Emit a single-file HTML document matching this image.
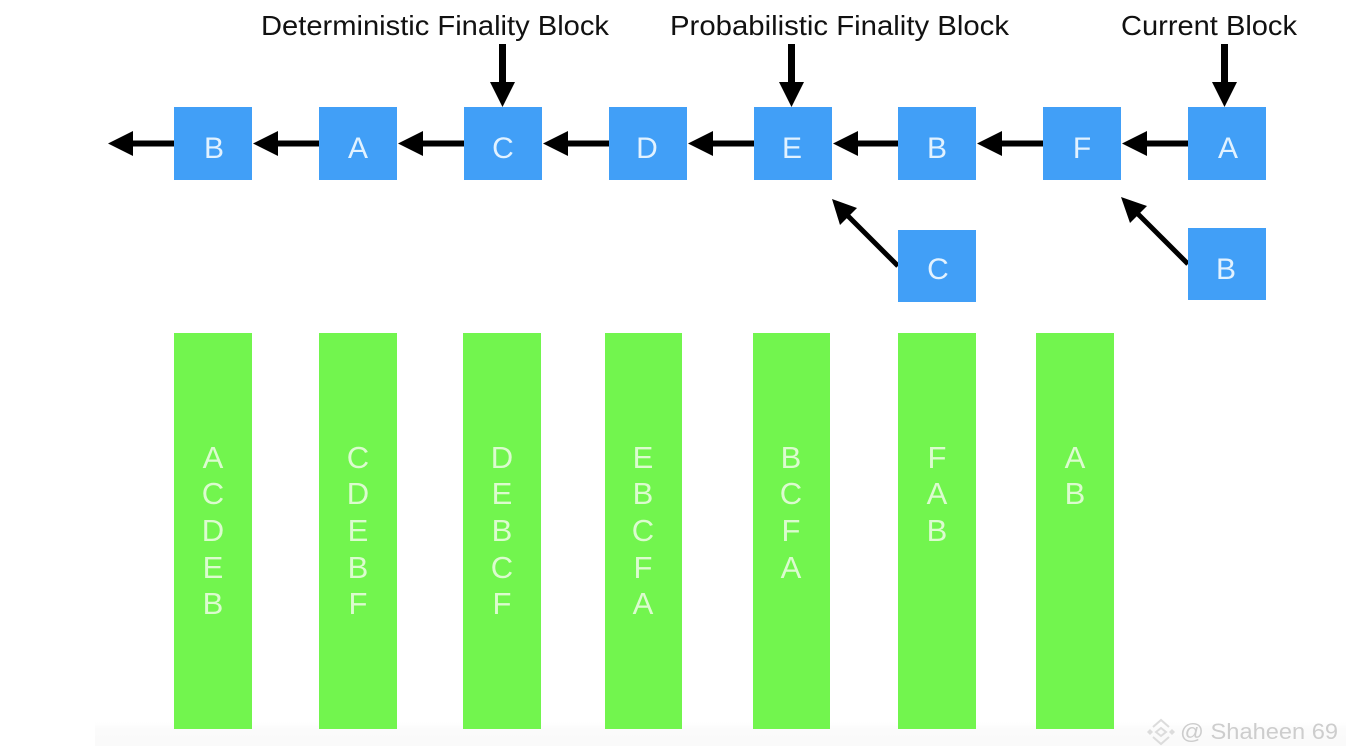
<!DOCTYPE html>
<html><head><meta charset="utf-8"><style>
html,body{margin:0;padding:0;background:#fff;width:1346px;height:756px;overflow:hidden}
svg{display:block}
text{font-family:"Liberation Sans",sans-serif}
.l{font-size:28px;fill:#111}
.b{font-size:30px;fill:#e2f2ff;text-anchor:middle}
.g{font-size:31px;fill:#dcfbcf;text-anchor:middle}
</style></head><body>
<svg width="1346" height="756" viewBox="0 0 1346 756" xmlns="http://www.w3.org/2000/svg">
<defs><linearGradient id="bg" x1="0" y1="0" x2="0" y2="1"><stop offset="0" stop-color="#fff"/><stop offset="0.3" stop-color="#fbfbfb"/><stop offset="1" stop-color="#fafafa"/></linearGradient></defs>
<rect x="95" y="722" width="1251" height="24" fill="url(#bg)"/>
<text class="l" x="261" y="35" textLength="348" lengthAdjust="spacingAndGlyphs">Deterministic Finality Block</text>
<text class="l" x="670" y="35" textLength="339" lengthAdjust="spacingAndGlyphs">Probabilistic Finality Block</text>
<text class="l" x="1121" y="35" textLength="176" lengthAdjust="spacingAndGlyphs">Current Block</text>
<g fill="#000">
<rect x="499" y="44" width="7" height="40"/><path d="M490 82h25l-12.500 25z"/>
<rect x="788" y="44" width="7" height="40"/><path d="M779 82h25l-12.500 25z"/>
<rect x="1221" y="44" width="7" height="40"/><path d="M1212 82h25l-12.500 25z"/>
<rect x="132" y="140.500" width="44" height="6"/><path d="M108 143.500l25-12.500v25z"/>
<rect x="277" y="140.500" width="44" height="6"/><path d="M253 143.500l25-12.500v25z"/>
<rect x="422" y="140.500" width="44" height="6"/><path d="M398 143.500l25-12.500v25z"/>
<rect x="567" y="140.500" width="44" height="6"/><path d="M543 143.500l25-12.500v25z"/>
<rect x="712" y="140.500" width="44" height="6"/><path d="M688 143.500l25-12.500v25z"/>
<rect x="857" y="140.500" width="44" height="6"/><path d="M833 143.500l25-12.500v25z"/>
<rect x="1001" y="140.500" width="44" height="6"/><path d="M977 143.500l25-12.500v25z"/>
<rect x="1146" y="140.500" width="44" height="6"/><path d="M1122 143.500l25-12.500v25z"/>
<path d="M832 199l25 9-17 17z"/>
<path d="M1121 197l26 9-17 17z"/>
</g>
<g stroke="#000" stroke-width="5" fill="none">
<path d="M848 216L898 266"/>
<path d="M1138 214L1188 264"/>
</g>
<g fill="#419ff7">
<rect x="174" y="107" width="78" height="73"/>
<rect x="319" y="107" width="78" height="73"/>
<rect x="464" y="107" width="78" height="73"/>
<rect x="609" y="107" width="78" height="73"/>
<rect x="754" y="107" width="78" height="73"/>
<rect x="898" y="107" width="78" height="73"/>
<rect x="1043" y="107" width="78" height="73"/>
<rect x="1188" y="107" width="78" height="73"/>
<rect x="898" y="230" width="78" height="72"/>
<rect x="1188" y="228" width="78" height="72"/>
</g>
<g>
<text class="b" x="214" y="158">B</text>
<text class="b" x="358" y="158">A</text>
<text class="b" x="503" y="158">C</text>
<text class="b" x="647" y="158">D</text>
<text class="b" x="792" y="158">E</text>
<text class="b" x="937" y="158">B</text>
<text class="b" x="1082" y="158">F</text>
<text class="b" x="1228" y="158">A</text>
<text class="b" x="938" y="279">C</text>
<text class="b" x="1226" y="279">B</text>
</g>
<g fill="#72f54e">
<rect x="174" y="333" width="78" height="396"/>
<rect x="319" y="333" width="78" height="396"/>
<rect x="463" y="333" width="78" height="396"/>
<rect x="605" y="333" width="77" height="396"/>
<rect x="753" y="333" width="77" height="396"/>
<rect x="898" y="333" width="78" height="396"/>
<rect x="1036" y="333" width="78" height="396"/>
</g>
<g>
<text class="g" x="213" y="468">A</text><text class="g" x="213" y="504">C</text><text class="g" x="213" y="541">D</text><text class="g" x="213" y="578">E</text><text class="g" x="213" y="614">B</text>
<text class="g" x="358" y="468">C</text><text class="g" x="358" y="504">D</text><text class="g" x="358" y="541">E</text><text class="g" x="358" y="578">B</text><text class="g" x="358" y="614">F</text>
<text class="g" x="502" y="468">D</text><text class="g" x="502" y="504">E</text><text class="g" x="502" y="541">B</text><text class="g" x="502" y="578">C</text><text class="g" x="502" y="614">F</text>
<text class="g" x="643" y="468">E</text><text class="g" x="643" y="504">B</text><text class="g" x="643" y="541">C</text><text class="g" x="643" y="578">F</text><text class="g" x="643" y="614">A</text>
<text class="g" x="791" y="468">B</text><text class="g" x="791" y="504">C</text><text class="g" x="791" y="541">F</text><text class="g" x="791" y="578">A</text>
<text class="g" x="937" y="468">F</text><text class="g" x="937" y="504">A</text><text class="g" x="937" y="541">B</text>
<text class="g" x="1075" y="468">A</text><text class="g" x="1075" y="504">B</text>
</g>
<g fill="none" stroke="#dcdcdc" stroke-width="2">
<path d="M1153 727l8-7 8 7"/>
<path d="M1153 737l8 7 8-7"/>
<path d="M1156 732l5-4 5 4-5 4z"/>
</g>
<g fill="#dcdcdc"><path d="M1147 732l3-3 3 3-3 3z"/><path d="M1169 732l3-3 3 3-3 3z"/></g>
<text x="1180" y="739" font-size="22" fill="#cdcdcd" textLength="158" lengthAdjust="spacingAndGlyphs">@ Shaheen 69</text>
</svg>
</body></html>
